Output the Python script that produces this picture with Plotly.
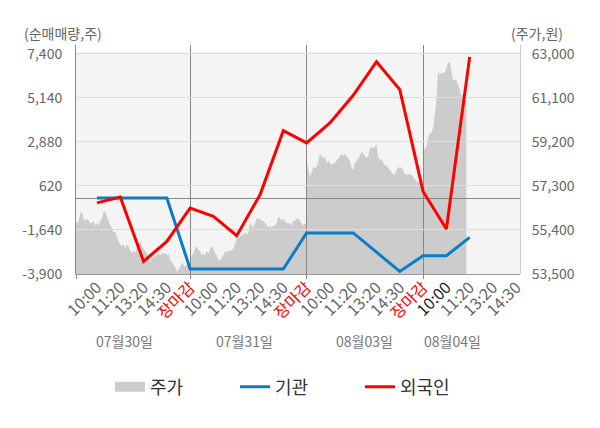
import plotly.graph_objects as go

FONT = "Noto Sans CJK KR"

# x축 시간 라벨 (19칸)
time_labels = ["10:00", "11:20", "13:20", "14:30", "장마감",
               "10:00", "11:20", "13:20", "14:30", "장마감",
               "10:00", "11:20", "13:20", "14:30", "장마감",
               "10:00", "11:20", "13:20", "14:30"]
day_labels = ["07월30일", "07월31일", "08월03일", "08월04일"]
day_label_pos = [1.2, 6.35, 11.5, 15.25]

left_ticks = [-3900, -1640, 620, 2880, 5140, 7400]
right_ticks = [53500, 55400, 57300, 59200, 61100, 63000]

# 순매매량(주)
inst = [0, 0, 0, 0, -3640, -3640, -3640, -3640, -3640,
        -1790, -1790, -1790, -2780, -3770, -2960, -2960, -2020]
foreign = [-250, 50, -3250, -2230, -510, -940, -1930, 170, 3460,
           2830, 3860, 5280, 7000, 5570, 340, -1590, 7250]

# 주가(원), 일별 분봉
price_0730 = [55000, 55700, 55700, 55800, 56100, 56200, 55900, 55800, 55900, 55800,
              55700, 55700, 55800, 55600, 55700, 55600, 55800, 55900, 56200, 56200,
              56000, 55800, 55600, 55500, 55300, 55300, 55100, 54900, 54800, 54700,
              54800, 54600, 54800, 54700, 54500, 54400, 54500, 54400, 54700, 54800,
              54900, 54700, 54600, 54500, 54400, 54200, 54000, 54300, 54200, 54300,
              54300, 54400, 54300, 54400, 54400, 54400, 54300, 54400, 54100, 54000,
              53900, 53800, 53600, 53700, 53800, 54000, 53900, 53800, 53900, 54000]
price_0731 = [54000, 54300, 54400, 54600, 54700, 54500, 54500, 54300, 54400, 54300,
              54500, 54400, 54600, 54700, 54600, 54400, 54300, 54100, 54100, 54200,
              54300, 54500, 54400, 54500, 54500, 54500, 54600, 54800, 55000, 55100,
              55100, 55200, 55200, 55300, 55200, 55300, 55700, 55600, 55500, 55700,
              55900, 55900, 55900, 55800, 55800, 55700, 55600, 55500, 55600, 55500,
              55600, 55600, 55700, 56000, 55900, 55800, 55900, 55800, 55700, 55700,
              55700, 55600, 55800, 55800, 55900, 55900, 55800, 55700, 55600, 55700, 55600]
price_0803 = [58400, 58100, 57700, 57900, 58100, 58100, 58100, 58400, 58700, 58600,
              58500, 58600, 58300, 58400, 58300, 58200, 58300, 58300, 58400, 58500,
              58600, 58700, 58600, 58700, 58600, 58500, 58400, 58100, 58000, 58300,
              58400, 58500, 58600, 58800, 58700, 58600, 58500, 58600, 58900, 59000,
              58900, 59000, 59100, 58600, 58400, 58500, 58300, 58200, 58200, 58100,
              58000, 57900, 57800, 57800, 58000, 58100, 58100, 58100, 58000, 57800,
              57800, 57800, 57800, 57800, 57700, 57600, 57500, 57500, 57500, 57300, 57300]
price_0804 = [58700, 58900, 59000, 59400, 59600, 59600, 59800, 60300, 61000, 62300,
              62100, 62200, 62200, 62200, 62400, 62600, 62700, 62200, 61900, 61900,
              61900, 61700, 61400, 61200, 61300, 61200, 61000]

price_days = [price_0730, price_0731, price_0803, price_0804]

# 하루 = 5칸, 분봉 간격 = 5/70칸
px_x, px_y = [], []
for d, vals in enumerate(price_days):
    start = 5 * d - 1
    for k, v in enumerate(vals):
        px_x.append(start + k * 5 / 70)
        px_y.append(v)

xr = [-0.9, 18.16]

# 페이지 body 여백(8px) 보정
OFF = 8
PLOT_TOP, PLOT_BOTTOM, PLOT_H, PLOT_W = 45, 274, 229, 444


def py(y_px):
    return (PLOT_BOTTOM - y_px) / PLOT_H


def tick_text(i, t):
    if t == "장마감":
        return f'<span style="color:#ff0000">{t}</span>'
    if i == 15:
        return f'<span style="color:#222222">{t}</span>'
    return t


fig = go.Figure()
fig.add_trace(go.Scatter(x=px_x, y=px_y, mode="lines", fill="tozeroy",
                         line=dict(width=0, color="#cccccc"), fillcolor="#cccccc",
                         xaxis="x", yaxis="y", showlegend=False, hoverinfo="skip"))
# 범례용
fig.add_trace(go.Scatter(x=[None], y=[None], mode="lines", name="주가",
                         line=dict(width=14, color="#cccccc"), xaxis="x2", yaxis="y2"))
fig.add_trace(go.Scatter(x=list(range(len(inst))), y=inst, mode="lines", name="기관",
                         line=dict(width=3, color="#0a7cc8"), xaxis="x2", yaxis="y2"))
fig.add_trace(go.Scatter(x=list(range(len(foreign))), y=foreign, mode="lines", name="외국인",
                         line=dict(width=3, color="#ff0000"), xaxis="x2", yaxis="y2"))

fig.update_layout(
    width=600, height=428,
    margin=dict(l=76 - OFF, r=80 + OFF, t=45 - OFF, b=154 + OFF),
    paper_bgcolor="white", plot_bgcolor="rgba(0,0,0,0)",
    font=dict(family=FONT, size=14, color="#666666"),
    legend=dict(orientation="h", xref="container", yref="container",
                x=(110 - OFF) / 600, xanchor="left", y=1 - (387 - OFF) / 428, yanchor="middle",
                font=dict(size=18, color="#333333"),
                entrywidth=80, entrywidthmode="pixels", bgcolor="rgba(0,0,0,0)"),
    xaxis=dict(domain=[0, 1], range=xr, anchor="y", tickmode="array",
               tickvals=list(range(len(time_labels))),
               ticktext=[tick_text(i, t) for i, t in enumerate(time_labels)],
               tickangle=-45, showgrid=False, zeroline=False, showline=False, ticks="",
               tickfont=dict(size=16, color="#666666"), automargin=False),
    yaxis=dict(side="right", range=[53500, 63400], anchor="x",
               tickvals=right_ticks, ticktext=[f"{v:,}" for v in right_ticks],
               showgrid=False, zeroline=False, showline=True, linecolor="#cccccc",
               ticks="", ticklabelstandoff=8, automargin=False),
    xaxis2=dict(domain=[0, 1], range=xr, anchor="y2", tickvals=[-0.9, 4, 9, 14],
                showticklabels=False, showgrid=True, gridcolor="#888888",
                ticks="outside", ticklen=4, tickcolor="#888888",
                showline=True, linecolor="#999999", zeroline=False, automargin=False),
    yaxis2=dict(side="left", range=[-3900, 7860], anchor="x2",
                tickvals=left_ticks, ticktext=[f"{v:,}" for v in left_ticks],
                showgrid=True, gridcolor="#dddddd",
                zeroline=True, zerolinecolor="#888888", zerolinewidth=1,
                showline=True, linecolor="#888888", ticks="", ticklabelstandoff=10,
                automargin=False),
    shapes=[dict(type="rect", xref="paper", yref="paper", x0=0, x1=1,
                 y0=0, y1=py(51.7), fillcolor="#f4f4f4",
                 line=dict(width=0), layer="below")],
)

fig.add_annotation(text="(순매매량,주)", xref="paper", yref="paper",
                   x=(22 - 76) / PLOT_W, y=py(33), xanchor="left", yanchor="middle",
                   showarrow=False, font=dict(size=14, color="#666666"))
fig.add_annotation(text="(주가,원)", xref="paper", yref="paper",
                   x=(509 - 76) / PLOT_W, y=py(33), xanchor="left", yanchor="middle",
                   showarrow=False, font=dict(size=14, color="#666666"))
for pos, lab in zip(day_label_pos, day_labels):
    fig.add_annotation(text=lab, x=pos, xref="x", y=py(353), yref="paper",
                       showarrow=False, font=dict(size=14, color="#777777"))

fig.write_html("out.html")
